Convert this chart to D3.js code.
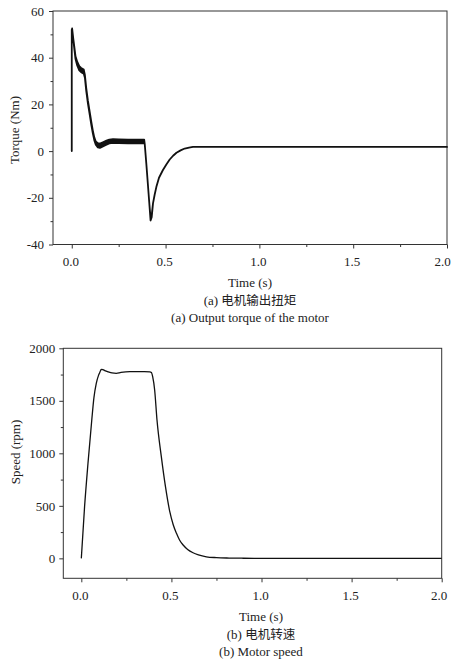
<!DOCTYPE html>
<html>
<head>
<meta charset="utf-8">
<script src="https://cdn.jsdelivr.net/npm/d3@7"></script>
<style>
	body { margin: 0; background: #fff; }
	svg { display: block; font-family: 'Liberation Serif', 'Times New Roman', serif; }
	.axis path, .axis line { stroke: #333; }
	.axis text { font-family: 'Liberation Serif', serif; font-size: 13px; fill: #222; }
	.caption { font-size: 13px; fill: #222; }
	.cjk { font-family: 'Noto Sans CJK SC', sans-serif; font-size: 12.5px; }
</style>
</head>
<body>
<div class="graphic"></div>
<script>
// torque (Nm): ripple envelope, high and low
const torqueTime = [0, 0, 0.002, 0.008, 0.014, 0.02, 0.029, 0.04, 0.05, 0.064, 0.07, 0.077, 0.086, 0.095, 0.104, 0.112, 0.12, 0.128, 0.139, 0.15, 0.166, 0.185, 0.2, 0.22, 0.25, 0.3, 0.35, 0.386, 0.389, 0.398, 0.406, 0.413, 0.42, 0.426, 0.433, 0.442, 0.451, 0.465, 0.486, 0.505, 0.522, 0.54, 0.558, 0.58, 0.602, 0.625, 0.646, 0.7, 1.0, 1.5, 2.0]
const torqueHigh = [0, 52, 52.5, 48.2, 44.4, 40.6, 38.3, 36.4, 35.6, 34.9, 32.6, 27.1, 21.6, 17.1, 12.6, 8.9, 5.9, 4.1, 3.4, 3.2, 3.8, 4.5, 4.9, 5.1, 5.0, 4.9, 4.9, 4.9, 3.0, -6, -14.5, -22, -28.9, -27.5, -22.4, -18.6, -15.3, -11.4, -8.1, -5.6, -3.6, -2.0, -0.7, 0.3, 1.1, 1.5, 1.8, 1.8, 1.8, 1.8, 1.8]
const torqueLow = [0, 52, 52.5, 47.8, 43.6, 39.4, 36.7, 34.6, 33.8, 33.1, 31.4, 25.9, 20.4, 15.9, 11.4, 7.7, 4.7, 2.7, 1.6, 1.4, 2.0, 2.7, 3.3, 3.5, 3.4, 3.3, 3.3, 3.3, 3.0, -6, -14.5, -22, -29.7, -28.3, -22.4, -18.6, -15.3, -11.4, -8.1, -5.6, -3.6, -2.0, -0.7, 0.3, 1.1, 1.5, 1.8, 1.8, 1.8, 1.8, 1.8]

// speed (rpm)
const speedTime = [0, 0.018, 0.037, 0.058, 0.07, 0.083, 0.095, 0.102, 0.111, 0.12, 0.13, 0.15, 0.17, 0.194, 0.22, 0.27, 0.3, 0.35, 0.38, 0.389, 0.396, 0.407, 0.42, 0.444, 0.467, 0.491, 0.51, 0.528, 0.545, 0.565, 0.59, 0.62, 0.65, 0.694, 0.75, 0.82, 0.9, 1.0, 2.0]
const speedValue = [0, 490, 905, 1317, 1530, 1667, 1740, 1768, 1800, 1797, 1788, 1775, 1765, 1762, 1770, 1777, 1777, 1777, 1776, 1770, 1730, 1603, 1317, 968, 682, 444, 320, 238, 175, 127, 85, 53, 33, 15, 7, 3, 1, 0, 0]

const timeTicks = [0, 0.5, 1.0, 1.5, 2.0]
const timeMinor = [0.25, 0.75, 1.25, 1.75]
const torqueTicks = [-40, -20, 0, 20, 40, 60]
const torqueMinor = [-30, -10, 10, 30, 50]
const speedTicks = [0, 500, 1000, 1500, 2000]
const speedMinor = [250, 750, 1250, 1750]

const svg = d3.select('.graphic').append('svg')
	.attr('width', 451)
	.attr('height', 660)

function drawPanel(opt) {
	const { box } = opt
	const x = d3.scaleLinear().domain([-0.1, 2.0]).range([box.left, box.right])
	const y = d3.scaleLinear().domain(opt.yDomain).range([box.bottom, box.top])
	const g = svg.append('g')

	// x axis
	const xAxis = g.append('g')
		.attr('class', 'axis')
		.attr('transform', `translate(0,${box.bottom})`)
		.call(d3.axisBottom(x).tickValues(timeTicks).tickFormat(d => d.toFixed(1)).tickSize(4).tickSizeOuter(0).tickPadding(8))
	xAxis.selectAll('text').attr('dx', (d, i) => i === timeTicks.length - 1 ? opt.lastDx : -1.5)
	g.append('g')
		.attr('class', 'axis axis--minor')
		.attr('transform', `translate(0,${box.bottom})`)
		.call(d3.axisBottom(x).tickValues(timeMinor).tickFormat('').tickSize(2.5).tickSizeOuter(0))

	// y axis
	g.append('g')
		.attr('class', 'axis')
		.attr('transform', `translate(${box.left},0)`)
		.call(d3.axisLeft(y).tickValues(opt.yTicks).tickFormat(d => String(d)).tickSize(4).tickSizeOuter(0).tickPadding(opt.yPad))
	g.append('g')
		.attr('class', 'axis axis--minor')
		.attr('transform', `translate(${box.left},0)`)
		.call(d3.axisLeft(y).tickValues(opt.yMinor).tickFormat('').tickSize(2.5).tickSizeOuter(0))

	g.selectAll('.axis .domain').remove()

	// frame
	g.append('rect')
		.attr('x', box.left)
		.attr('y', box.top)
		.attr('width', box.right - box.left)
		.attr('height', box.bottom - box.top)
		.attr('fill', 'none')
		.attr('stroke', '#333')
		.attr('stroke-width', 1)

	g.append('text')
		.attr('class', 'caption')
		.attr('transform', `translate(${opt.yLabelX},${opt.yLabelY}) rotate(-90)`)
		.attr('text-anchor', 'middle')
		.attr('dy', '0.35em')
		.text(opt.yLabel)

	opt.captions.forEach((c, i) => {
		g.append('text')
			.attr('class', 'caption')
			.attr('x', opt.capX)
			.attr('y', opt.capY[i])
			.attr('dy', '0.35em')
			.attr('text-anchor', 'middle')
			.call(t => {
				if (c.cjk) {
					t.append('tspan').text(c.pre)
					t.append('tspan').attr('class', 'cjk').text(c.text)
				} else {
					t.text(c.text)
				}
			})
	})

	return { g, x, y }
}

// (a) torque
const torquePanel = drawPanel({
	box: { left: 53, right: 447, top: 11, bottom: 244.5 },
	yDomain: [-40, 60],
	yTicks: torqueTicks,
	yMinor: torqueMinor,
	yPad: 5,
	lastDx: -5,
	yLabel: 'Torque (Nm)',
	yLabelX: 14,
	yLabelY: 130,
	capX: 250,
	capY: [282, 300, 317],
	captions: [
		{ text: 'Time (s)' },
		{ cjk: true, pre: '(a) ', text: '电机输出扭矩' },
		{ text: '(a) Output torque of the motor' },
	],
})

const torqueData = torqueTime.map((t, i) => ({ t, lo: torqueLow[i], hi: torqueHigh[i] }))
torquePanel.g.append('path')
	.datum(torqueData)
	.attr('d', d3.area()
		.x(d => torquePanel.x(d.t))
		.y0(d => torquePanel.y(d.lo))
		.y1(d => torquePanel.y(d.hi)))
	.attr('fill', '#111')
	.attr('stroke', '#111')
	.attr('stroke-width', 1.8)
	.attr('stroke-linejoin', 'round')

// (b) speed
const speedPanel = drawPanel({
	box: { left: 63.3, right: 441.7, top: 348.3, bottom: 578.3 },
	yDomain: [-190, 2000],
	yTicks: speedTicks,
	yMinor: speedMinor,
	yPad: 4,
	lastDx: -3,
	yLabel: 'Speed (rpm)',
	yLabelX: 15,
	yLabelY: 452,
	capX: 261,
	capY: [616, 634, 651],
	captions: [
		{ text: 'Time (s)' },
		{ cjk: true, pre: '(b) ', text: '电机转速' },
		{ text: '(b) Motor speed' },
	],
})

const speedData = speedTime.map((t, i) => ({ t, v: speedValue[i] }))
speedPanel.g.append('path')
	.datum(speedData)
	.attr('d', d3.line()
		.x(d => speedPanel.x(d.t))
		.y(d => speedPanel.y(d.v))
		.curve(d3.curveMonotoneX))
	.attr('fill', 'none')
	.attr('stroke', '#111')
	.attr('stroke-width', 1.3)
</script>
</body>
</html>
